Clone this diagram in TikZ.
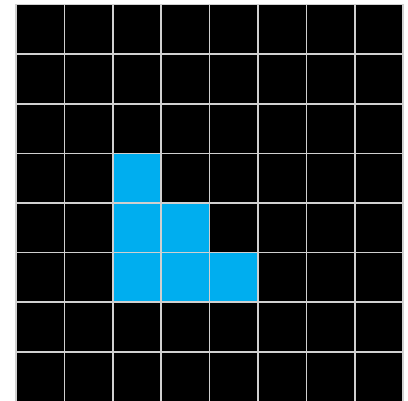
\documentclass[tikz,border=0pt]{standalone}
\definecolor{cellblue}{HTML}{00AEEF}
\definecolor{gridgray}{HTML}{D0D0D0}
\tikzset{cell/.style={fill=black,draw=gridgray,line width=1.6pt},
  bluecell/.style={fill=cellblue,draw=gridgray,line width=1.6pt}}
\begin{document}
\begin{tikzpicture}[x=1pt,y=-1pt]
\useasboundingbox (0,0) rectangle (408,400);
\fill[white] (0,0) rectangle (408,400);
\begin{scope}
\clip (0,0) rectangle (408,400);
\foreach \r in {0,...,7}{
  \foreach \c in {0,...,7}{
    \path[cell] ({16+\c*48.4},{4.5+\r*49.6}) rectangle ++(48.4,49.6);
  }
}
\foreach \r/\c in {3/2,4/2,4/3,5/2,5/3,5/4}{
  \path[bluecell] ({16+\c*48.4},{4.5+\r*49.6}) rectangle ++(48.4,49.6);
}
\end{scope}
\end{tikzpicture}
\end{document}
